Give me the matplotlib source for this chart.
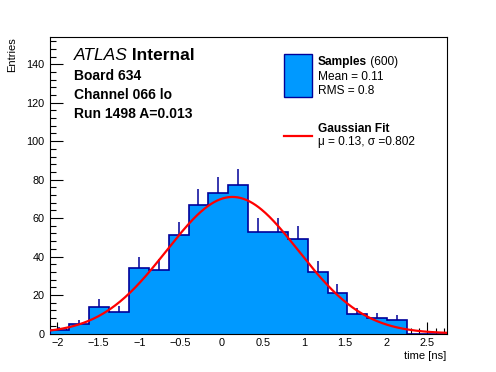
import numpy as np
import matplotlib
matplotlib.use("Agg")
import matplotlib.pyplot as plt
from matplotlib.patches import Rectangle
from matplotlib.lines import Line2D
from matplotlib.ticker import MultipleLocator, FuncFormatter

plt.rcParams['font.family'] = ['Liberation Sans', 'DejaVu Sans']

# histogram data (20 bins over the full x range)
x_lo, x_hi = -2.095, 2.735
counts = [2, 5, 14, 11, 34, 33, 51, 67, 73, 77, 53, 53, 49, 32, 21, 10, 8, 7, 0, 0]
fit_mu = 0.13
fit_sigma = 0.802
fit_amp = 71.0

fill_col = "#0099ff"
edge_col = "#000099"

W, H = 496, 372
fig = plt.figure(figsize=(W / 100, H / 100), dpi=100)
ax = fig.add_axes([49.5 / W, 1 - 333.5 / H, (446.7 - 49.5) / W, (333.5 - 37.3) / H])

edges = np.linspace(x_lo, x_hi, len(counts) + 1)
centers = 0.5 * (edges[:-1] + edges[1:])
cnt = np.array(counts, dtype=float)

# error bars (only upper half visible, like ROOT "E" under the filled hist)
m = cnt > 0
ax.vlines(centers[m], cnt[m], cnt[m] + np.sqrt(cnt[m]), color=edge_col, lw=1.1, zorder=1)
ax.stairs(cnt, edges, fill=True, color=fill_col, zorder=2)
ax.stairs(cnt, edges, baseline=0, color=edge_col, lw=1.2, zorder=3)

# gaussian fit curve
xf = np.linspace(x_lo, x_hi, 400)
yf = fit_amp * np.exp(-0.5 * ((xf - fit_mu) / fit_sigma) ** 2)
ax.plot(xf, yf, color="red", lw=1.6, zorder=4)

ax.set_xlim(x_lo, x_hi)
ax.set_ylim(0, 154)
ax.xaxis.set_major_locator(MultipleLocator(0.5))
ax.xaxis.set_minor_locator(MultipleLocator(0.1))
ax.xaxis.set_major_formatter(FuncFormatter(lambda v, p: ("%g" % round(v, 3)).replace("-", "\u2212")))
ax.yaxis.set_major_locator(MultipleLocator(20))
ax.yaxis.set_minor_locator(MultipleLocator(4))
ax.tick_params(which='both', direction='in', top=False, right=False,
               labelsize=7.8, width=0.8, color='black')
ax.tick_params(which='major', length=9, pad=3.5)
ax.tick_params(which='minor', length=4.5)
for sp in ax.spines.values():
    sp.set_linewidth(0.8)

ax.set_xlabel("time [ns]", fontsize=8, loc='right', labelpad=2)
ax.set_ylabel("Entries", fontsize=8, loc='top', labelpad=7)


def fx(px):
    return px / W


def fy(py):
    return 1 - py / H


# ATLAS label block
t = fig.text(fx(73.5), fy(63.5), "ATLAS", fontsize=12.5, style='italic', va='bottom')
ax.annotate(" Internal", xy=(1, 0), xycoords=t, fontsize=12.5, fontweight='bold',
            va='bottom', ha='left', annotation_clip=False)
fig.text(fx(73.5), fy(80.5), "Board 634", fontsize=10, fontweight='bold', va='baseline')
fig.text(fx(73.5), fy(99), "Channel 066 lo", fontsize=10, fontweight='bold', va='baseline')
fig.text(fx(73.5), fy(117.5), "Run 1498 A=0.013", fontsize=10, fontweight='bold', va='baseline')

# legend
fig.patches.append(Rectangle((fx(283.5), fy(96.5)), fx(311.5) - fx(283.5), fy(53.5) - fy(96.5),
                             transform=fig.transFigure, facecolor=fill_col,
                             edgecolor=edge_col, lw=1.0))
s = fig.text(fx(317.5), fy(65), "Samples", fontsize=8.6, fontweight='bold', va='baseline')
ax.annotate(" (600)", xy=(1, 0), xycoords=s, fontsize=8.6, va='bottom', ha='left',
            annotation_clip=False)
fig.text(fx(317.5), fy(80.5), "Mean = 0.11", fontsize=8.6, va='baseline')
fig.text(fx(317.5), fy(94), "RMS = 0.8", fontsize=8.6, va='baseline')
fig.lines.append(Line2D([fx(283.5), fx(311.5)], [fy(136), fy(136)],
                        transform=fig.transFigure, color='red', lw=1.6))
fig.text(fx(317.5), fy(132.5), "Gaussian Fit", fontsize=8.6, fontweight='bold', va='baseline')
fig.text(fx(317.5), fy(145.5), "\u03bc = 0.13, \u03c3 =0.802", fontsize=8.6, va='baseline')

fig.savefig("out.png", dpi=100)
